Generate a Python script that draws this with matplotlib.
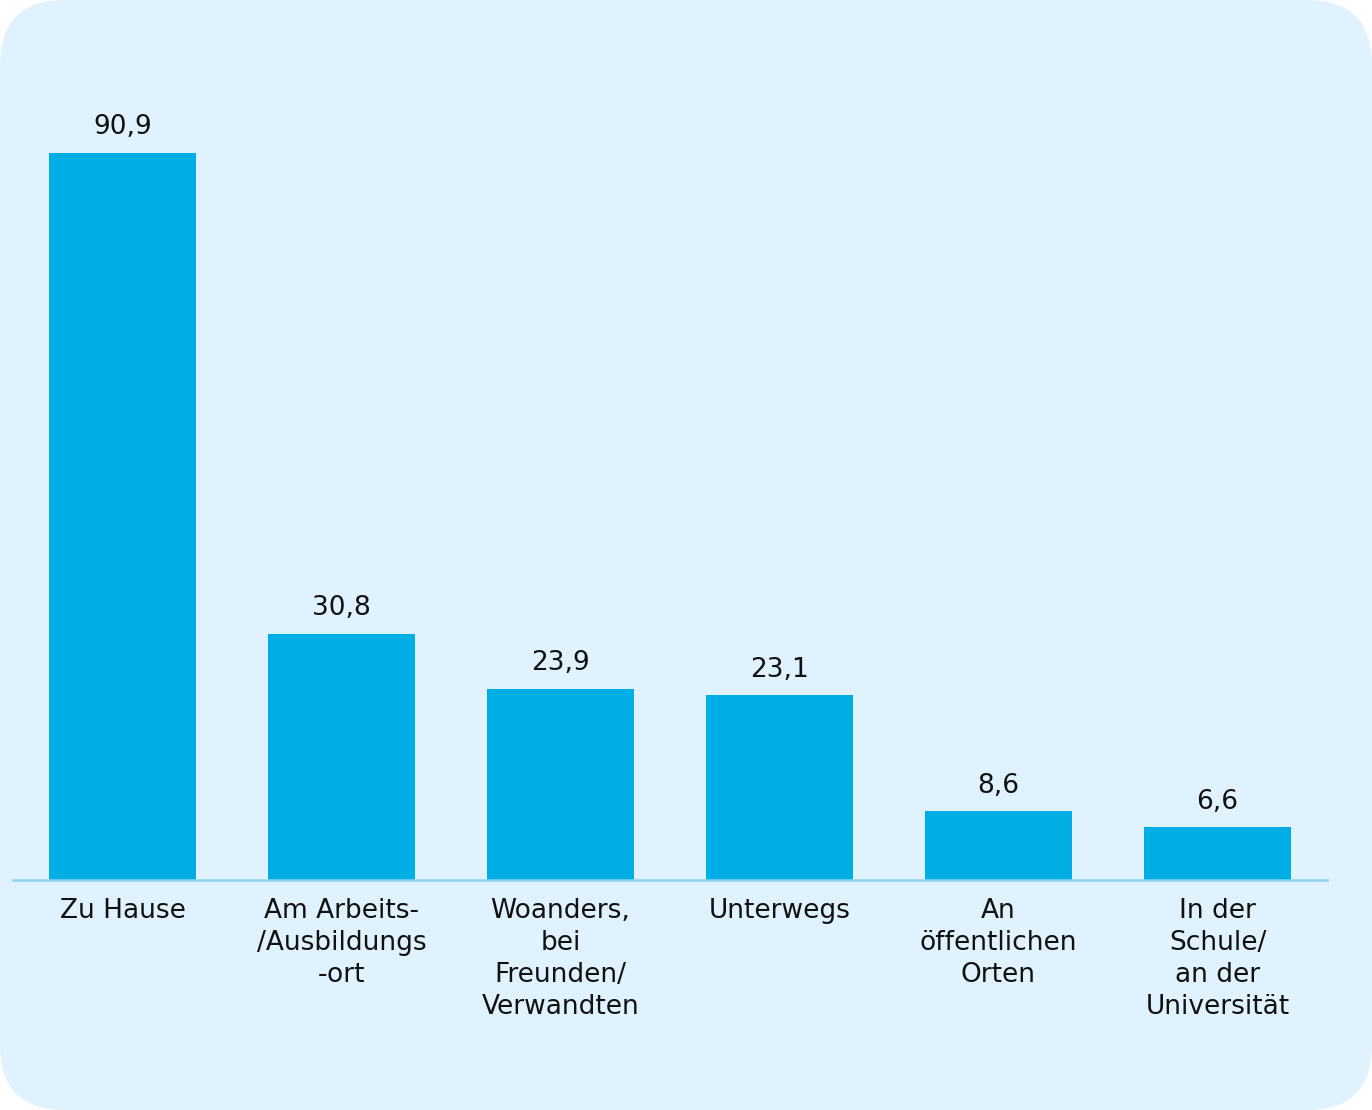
import matplotlib
matplotlib.use("Agg")
import matplotlib.pyplot as plt
from matplotlib.patches import FancyBboxPatch

# Orte der Nutzung (Angaben in Prozent)
categories = [
    "Zu Hause",
    "Am Arbeits-\n/Ausbildungs\n-ort",
    "Woanders,\nbei\nFreunden/\nVerwandten",
    "Unterwegs",
    "An\nöffentlichen\nOrten",
    "In der\nSchule/\nan der\nUniversität",
]
values = [90.9, 30.8, 23.9, 23.1, 8.6, 6.6]
value_labels = ["90,9", "30,8", "23,9", "23,1", "8,6", "6,6"]

BAR_COLOR = "#00aee6"
PANEL_COLOR = "#dff2fd"
BASELINE_COLOR = "#8dd5ef"
TEXT_COLOR = "#111111"

fig = plt.figure(figsize=(13.72, 11.10), dpi=100)
fig.patch.set_facecolor("white")

# rounded light-blue panel behind everything
panel = FancyBboxPatch((0, 0), 13.72, 11.10,
                       boxstyle="round,pad=0,rounding_size=0.65",
                       transform=fig.dpi_scale_trans,
                       facecolor=PANEL_COLOR, edgecolor="none", zorder=-10)
fig.patches.append(panel)

ax = fig.add_axes([13 / 1372, 230 / 1110, 1314 / 1372, 840 / 1110])
ax.set_facecolor("none")

x = range(len(categories))
bars = ax.bar(x, values, width=0.667, color=BAR_COLOR, zorder=2)

for xi, v, lab in zip(x, values, value_labels):
    ax.annotate(lab, (xi, v), xytext=(0, 9), textcoords="offset points",
                ha="center", va="bottom", fontsize=19, color=TEXT_COLOR)

ax.set_xlim(-0.5, 5.5)
ax.set_ylim(0, 105)
ax.set_xticks(list(x))
ax.set_xticklabels(categories, fontsize=19, color=TEXT_COLOR, linespacing=1.3)
ax.tick_params(axis="x", length=0, pad=13)
ax.set_yticks([])

for side in ["top", "right", "left"]:
    ax.spines[side].set_visible(False)
ax.spines["bottom"].set_color(BASELINE_COLOR)
ax.spines["bottom"].set_linewidth(1.8)
ax.spines["bottom"].set_zorder(3)

fig.savefig("out.png", dpi=100, facecolor=fig.get_facecolor())
